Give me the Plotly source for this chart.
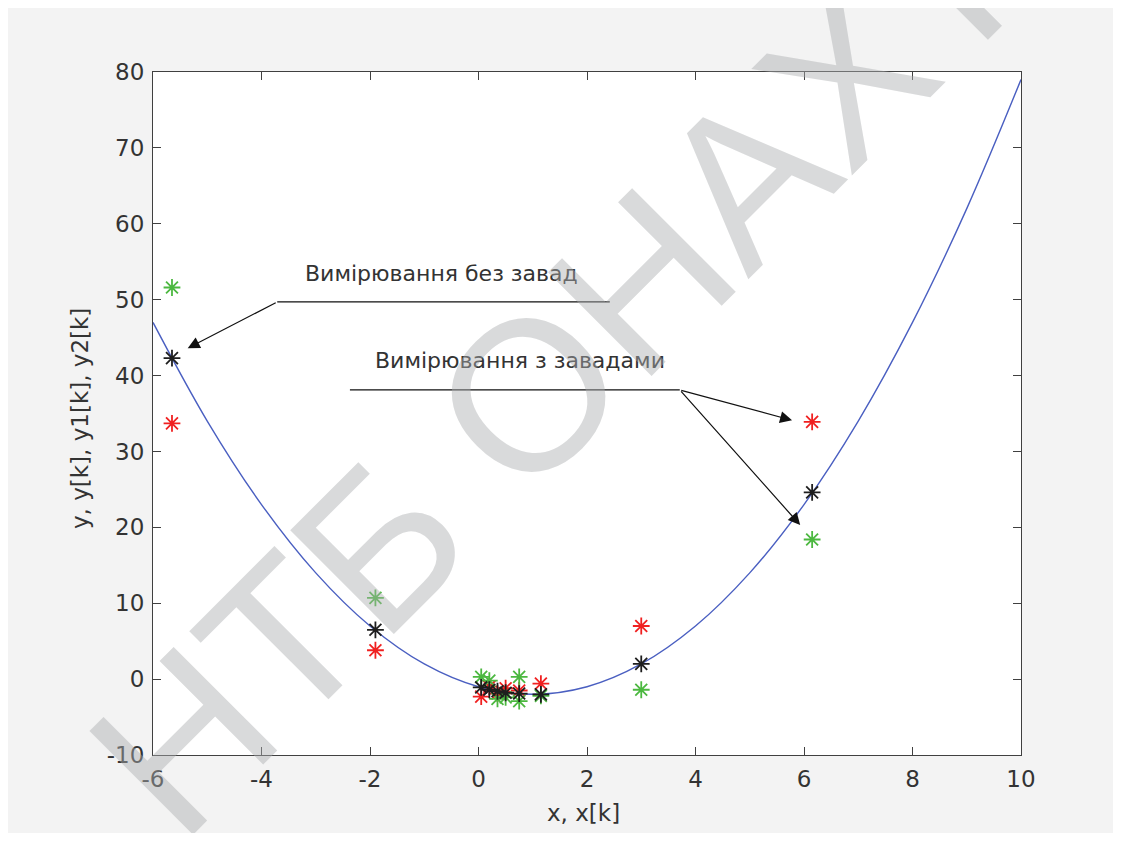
import plotly.graph_objects as go

# ---- data ----
curve_x = [-6, -5, -4, -3, -2, -1, 0, 1, 2, 3, 4, 5, 6, 7, 8, 9, 10]
curve_y = [47, 34, 23, 14, 7, 2, -1, -2, -1, 2, 7, 14, 23, 34, 47, 62, 79]

pts_x = [-5.65, -1.9, 0.05, 0.2, 0.35, 0.5, 0.75, 1.15, 3.0, 6.15]
y_exact = [42.3, 6.5, -1.1, -1.4, -1.6, -1.8, -1.9, -2.0, 2.0, 24.6]
y_noisy1 = [33.7, 3.8, -2.3, -1.0, -1.9, -1.2, -1.5, -0.6, 7.0, 33.9]
y_noisy2 = [51.6, 10.7, 0.3, -0.2, -2.6, -2.4, 0.3, -2.2, -1.4, 18.4]
extra_green_x = [0.75]
extra_green_y = [-2.9]

x_ticks = [-6, -4, -2, 0, 2, 4, 6, 8, 10]
x_ticktext = ["-6", "-4", "-2", "0", "2", "4", "6", "8", "10"]
y_ticks = [-10, 0, 10, 20, 30, 40, 50, 60, 70, 80]
y_ticktext = ["-10", "0", "10", "20", "30", "40", "50", "60", "70", "80"]

label_1 = "Вимірювання без завад"
label_2 = "Вимірювання з завадами"
x_title = "x, x[k]"
y_title = "y, y[k], y1[k], y2[k]"
watermark = "НТБ ОНАХТ"

FONT = "DejaVu Sans, Verdana, sans-serif"
WFONT = "Liberation Sans, Arial, sans-serif"
TXT = "#333333"
AX = "#404040"

fig = go.Figure()
fig.add_trace(go.Scatter(x=curve_x, y=curve_y, mode="lines",
                         line=dict(color="#4a5fc1", width=1.4, shape="spline"),
                         hoverinfo="skip"))


def stars(xs, ys, color):
    fig.add_trace(go.Scatter(x=xs, y=ys, mode="markers",
                             marker=dict(symbol="asterisk-open", size=14,
                                         line=dict(color=color, width=1.8),
                                         color=color)))


stars(pts_x, y_noisy1, "#f02020")
stars(pts_x + extra_green_x, y_noisy2 + extra_green_y, "#4cb840")
stars(pts_x, y_exact, "#1e1e1e")

axis_common = dict(showgrid=False, zeroline=False, showline=True, linecolor=AX,
                   linewidth=1.2, mirror="ticks", ticks="inside", ticklen=8,
                   tickcolor=AX, tickwidth=1.2,
                   tickfont=dict(family=FONT, size=23, color=TXT))

fig.update_xaxes(range=[-6, 10], tickvals=x_ticks, ticktext=x_ticktext,
                 ticklabelstandoff=3, **axis_common)
fig.update_yaxes(range=[-10, 80], tickvals=y_ticks, ticktext=y_ticktext,
                 ticklabelstandoff=3, **axis_common)

arrow_style = dict(xref="x", yref="y", axref="x", ayref="y", text="", showarrow=True,
                   arrowhead=2, arrowsize=2.0, arrowwidth=1.2, arrowcolor="#111")

annotations = [
    dict(text=label_1, x=-0.69, y=53.5, xref="x", yref="y", showarrow=False,
         xanchor="center", yanchor="middle",
         font=dict(family=FONT, size=22, color=TXT)),
    dict(text=label_2, x=0.77, y=42.0, xref="x", yref="y", showarrow=False,
         xanchor="center", yanchor="middle",
         font=dict(family=FONT, size=22, color=TXT)),
    # arrows
    dict(x=-5.36, y=43.6, ax=-3.71, ay=49.7, **arrow_style),
    dict(x=5.78, y=34.1, ax=3.71, ay=38.1, **arrow_style),
    dict(x=5.93, y=20.3, ax=3.71, ay=38.1, **arrow_style),
    # axis titles
    dict(text=x_title, x=0.4965, y=-0.085, xref="paper", yref="paper", showarrow=False,
         xanchor="center", yanchor="middle",
         font=dict(family=FONT, size=23, color=TXT)),
    dict(text=y_title, x=-0.084, y=0.492, xref="paper", yref="paper", showarrow=False,
         xanchor="center", yanchor="middle",
         textangle=-90, font=dict(family=FONT, size=23, color=TXT)),
    # watermark
    dict(text=watermark, x=0.4677, y=0.5725, xref="paper", yref="paper", showarrow=False,
         xanchor="center", yanchor="middle",
         textangle=-45, font=dict(family=WFONT, size=213, color="rgba(170,172,176,0.45)")),
]

shapes = [
    dict(type="line", x0=-3.71, y0=49.7, x1=2.42, y1=49.7, xref="x", yref="y",
         line=dict(color="#111", width=1.2)),
    dict(type="line", x0=-2.37, y0=38.1, x1=3.71, y1=38.1, xref="x", yref="y",
         line=dict(color="#111", width=1.2)),
]

fig.update_layout(
    width=1105, height=825,
    margin=dict(l=145, r=92, t=64, b=78),
    paper_bgcolor="#f3f3f3", plot_bgcolor="white",
    showlegend=False,
    annotations=annotations, shapes=shapes,
    font=dict(family=FONT, color=TXT),
)

fig.write_html("out.html", config={"displayModeBar": False})
